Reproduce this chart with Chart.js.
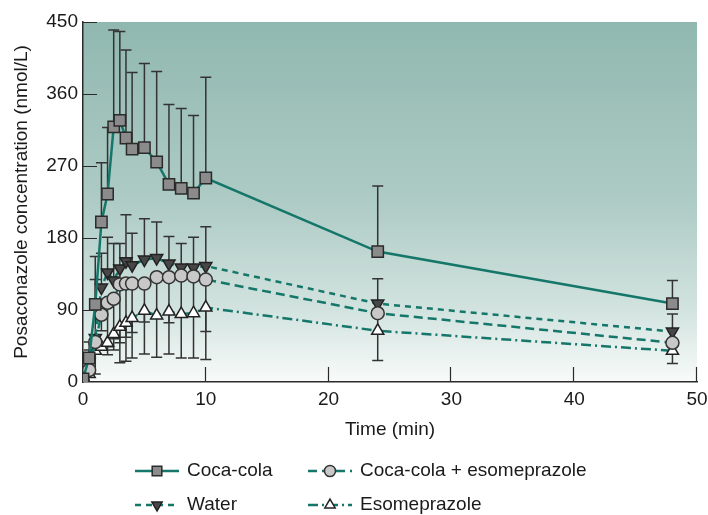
<!DOCTYPE html>
<html>
<head>
<meta charset="utf-8">
<script src="https://cdn.jsdelivr.net/npm/chart.js@4"></script>
<style>
  body { margin: 0; background: #ffffff; }
  #wrap { width: 708px; height: 515px; }
</style>
</head>
<body>
<div id="wrap"><canvas id="chart" width="708" height="515"></canvas></div>
<script>
// sampling times (min)
const times = [0, 0.5, 1, 1.5, 2, 2.5, 3, 3.5, 4, 5, 6, 7, 8, 9, 10, 24, 48];

// mean concentrations (nmol/L)
const cocaCola = [4, 30, 97, 200, 235, 319, 327, 305, 291, 293, 275, 247, 242, 236, 255, 163, 98];
const cocaColaEso = [0, 15, 50, 84, 99, 104, 122, 123, 123, 123, 131, 131, 133, 132, 128, 86, 49];
const water = [6, 25, 55, 118, 137, 127, 142, 151, 146, 153, 155, 148, 143, 143, 145, 98, 63];
const esomeprazole = [0, 10, 39, 44, 49, 60, 69, 74, 80, 89, 83, 88, 85, 86, 93, 64, 39];

// error bars (one sided, as printed)
const cocaColaUp = [0, 20, 60, 74, 83, 121, 111, 110, 96, 105, 113, 100, 100, 97, 126, 82, 29];
const waterUp = [0, 15, 73, 43, 44, 46, 31, 58, 40, 51, 45, 34, 30, 38, 49, 31, 22];
const cocaColaEsoDown = [0, 0, 0, 20, 55, 50, 98, 97, 93, 88, 100, 96, 103, 102, 100, 59, 26];
const esomeprazoleDown = [0, 0, 29, 0, 15, 20, 20, 18, 18, 14, 0, 14, 0, 0, 30, 0, 0];

const yTicks = [0, 90, 180, 270, 360, 450];
const xTicks = [0, 10, 20, 30, 40, 50];

const teal = "#15766a";
const axisColor = "#2a2a2a";
const fontFamily = "'Liberation Sans', Arial, Helvetica, sans-serif";

const toPoints = (vals) => vals.map((v, i) => ({ x: times[i], y: v }));

//background gradient in the plot area
const bgPlugin = {
  id: "bgGradient",
  beforeDraw(chart) {
    const { ctx, chartArea: a } = chart;
    const g = ctx.createLinearGradient(0, a.top, 0, a.bottom);
    g.addColorStop(0, "#90b8b0");
    g.addColorStop(0.5, "#aecbc5");
    g.addColorStop(0.8, "#d2e3df");
    g.addColorStop(1, "#f8fbfa");
    ctx.save();
    ctx.fillStyle = g;
    ctx.fillRect(a.left, a.top, a.right - a.left, a.bottom - a.top);
    ctx.restore();
  },
};

//ticks pointing into the plot
const innerTicks = {
  id: "innerTicks",
  beforeDatasetsDraw(chart) {
    const { ctx, chartArea: a, scales } = chart;
    ctx.save();
    ctx.strokeStyle = axisColor;
    ctx.lineWidth = 1.2;
    ctx.beginPath();
    yTicks.slice(1).forEach((v) => {
      const y = Math.round(scales.y.getPixelForValue(v)) + 0.5;
      ctx.moveTo(a.left, y);
      ctx.lineTo(a.left + 14, y);
    });
    xTicks.slice(1).forEach((v) => {
      const x = Math.round(scales.x.getPixelForValue(v)) - 0.5;
      ctx.moveTo(x, a.bottom);
      ctx.lineTo(x, a.bottom - 15);
    });
    ctx.stroke();
    ctx.restore();
  },
};

//error bars, drawn under the markers
const errorBars = {
  id: "errorBars",
  beforeDatasetsDraw(chart) {
    const { ctx, scales } = chart;
    ctx.save();
    ctx.strokeStyle = "#333333";
    ctx.lineWidth = 1.5;
    chart.data.datasets.forEach((ds, i) => {
      const meta = chart.getDatasetMeta(i);
      meta.data.forEach((pt, j) => {
        const v = ds.data[j].y;
        const ends = [];
        if (ds.errUp && ds.errUp[j] > 0) ends.push(v + ds.errUp[j]);
        if (ds.errDown && ds.errDown[j] > 0) ends.push(v - ds.errDown[j]);
        ends.forEach((e) => {
          const ye = scales.y.getPixelForValue(e);
          ctx.beginPath();
          ctx.moveTo(pt.x, pt.y);
          ctx.lineTo(pt.x, ye);
          ctx.moveTo(pt.x - 5.5, ye);
          ctx.lineTo(pt.x + 5.5, ye);
          ctx.stroke();
        });
      });
    });
    ctx.restore();
  },
};

//legend with line + marker samples
const legendPlugin = {
  id: "lineLegend",
  afterDraw(chart) {
    const { ctx } = chart;
    const spots = [
      { ds: 0, x: 135, y: 471 },
      { ds: 1, x: 308, y: 471 },
      { ds: 2, x: 135, y: 505 },
      { ds: 3, x: 308, y: 505 },
    ];
    ctx.save();
    spots.forEach((s) => {
      const ds = chart.data.datasets[s.ds];
      ctx.strokeStyle = teal;
      ctx.lineWidth = 2.5;
      ctx.setLineDash(ds.borderDash || []);
      ctx.beginPath();
      ctx.moveTo(s.x, s.y);
      ctx.lineTo(s.x + 44, s.y);
      ctx.stroke();
      ctx.setLineDash([]);
      ctx.fillStyle = ds.pointBackgroundColor;
      ctx.strokeStyle = ds.pointBorderColor;
      ctx.lineWidth = 1.5;
      Chart.helpers.drawPoint(ctx, {
        pointStyle: ds.pointStyle,
        rotation: ds.pointRotation || 0,
        radius: ds.pointRadius * 0.85,
        borderWidth: 1.5,
      }, s.x + 22, s.y);
      ctx.fillStyle = "#1a1a1a";
      ctx.font = "19px " + fontFamily;
      ctx.textBaseline = "middle";
      ctx.textAlign = "left";
      ctx.fillText(ds.label, s.x + 52, s.y);
    });
    ctx.restore();
  },
};

const lineBase = {
  borderColor: teal,
  borderWidth: 2.5,
  pointBorderWidth: 1.5,
  fill: false,
  tension: 0,
};

new Chart(document.getElementById("chart"), {
  type: "line",
  plugins: [bgPlugin, innerTicks, errorBars, legendPlugin],
  data: {
    datasets: [
      {
        ...lineBase,
        label: "Coca-cola",
        data: toPoints(cocaCola),
        errUp: cocaColaUp,
        pointStyle: "rect",
        pointRadius: 8,
        pointBackgroundColor: "#8b8b8b",
        pointBorderColor: "#2b2b2b",
      },
      {
        ...lineBase,
        label: "Coca-cola + esomeprazole",
        data: toPoints(cocaColaEso),
        errDown: cocaColaEsoDown,
        borderDash: [9, 5],
        pointStyle: "circle",
        pointRadius: 6.5,
        pointBackgroundColor: "#c8c8c8",
        pointBorderColor: "#333333",
      },
      {
        ...lineBase,
        label: "Water",
        data: toPoints(water),
        errUp: waterUp,
        borderDash: [6, 5],
        pointStyle: "triangle",
        pointRotation: 180,
        pointRadius: 7,
        pointBackgroundColor: "#474747",
        pointBorderColor: "#222222",
      },
      {
        ...lineBase,
        label: "Esomeprazole",
        data: toPoints(esomeprazole),
        errDown: esomeprazoleDown,
        borderDash: [10, 4, 2, 4],
        pointStyle: "triangle",
        pointRadius: 7,
        pointBackgroundColor: "#ffffff",
        pointBorderColor: "#222222",
      },
    ],
  },
  options: {
    responsive: false,
    animation: false,
    layout: { padding: { top: 22, right: 11, bottom: 70, left: 0 } },
    plugins: {
      legend: { display: false },
      tooltip: { enabled: false },
    },
    scales: {
      x: {
        type: "linear",
        min: 0,
        max: 50,
        afterBuildTicks: (s) => { s.ticks = xTicks.map((v) => ({ value: v })); },
        afterFit: (s) => { s.height = 63; s.paddingRight = 0; s.paddingLeft = 0; },
        grid: { drawOnChartArea: false, drawTicks: false },
        border: { color: axisColor, width: 1.5 },
        ticks: { color: "#1a1a1a", padding: 6, font: { size: 19, family: fontFamily } },
        title: {
          display: true,
          text: "Time (min)",
          color: "#1a1a1a",
          font: { size: 19, family: fontFamily },
          padding: { top: 0, bottom: 4 },
        },
      },
      y: {
        min: 0,
        max: 450,
        afterBuildTicks: (s) => { s.ticks = yTicks.map((v) => ({ value: v })); },
        afterFit: (s) => { s.width = 83; },
        grid: { drawOnChartArea: false, drawTicks: false },
        border: { color: axisColor, width: 1.5 },
        ticks: { color: "#1a1a1a", padding: 5, font: { size: 19, family: fontFamily } },
        title: {
          display: true,
          text: "Posaconazole concentration (nmol/L)",
          color: "#1a1a1a",
          font: { size: 19, family: fontFamily },
          padding: { top: 10, bottom: 0 },
        },
      },
    },
  },
});
</script>
</body>
</html>
